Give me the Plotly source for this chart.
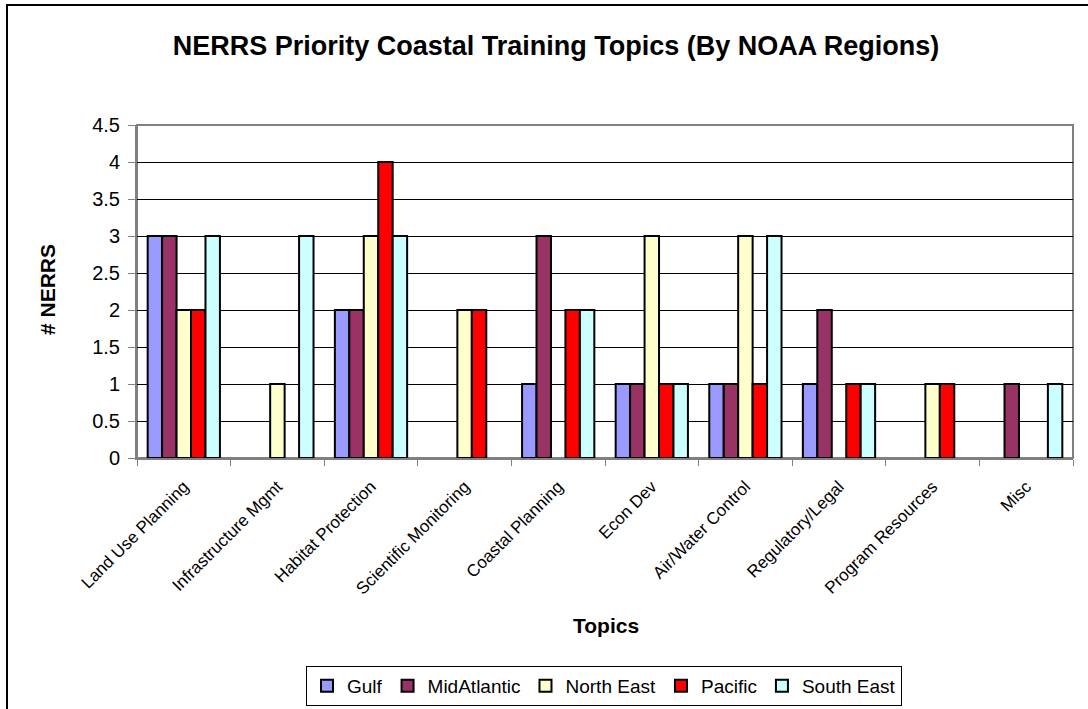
import plotly.graph_objects as go

topics = ["Land Use Planning", "Infrastructure Mgmt", "Habitat Protection",
          "Scientific Monitoring", "Coastal Planning", "Econ Dev",
          "Air/Water Control", "Regulatory/Legal", "Program Resources", "Misc"]

gulf = [3, 0, 2, 0, 1, 1, 1, 1, 0, 0]
mid_atlantic = [3, 0, 2, 0, 3, 1, 1, 2, 0, 1]
north_east = [2, 1, 3, 2, 0, 3, 3, 0, 1, 0]
pacific = [2, 0, 4, 2, 2, 1, 1, 1, 1, 0]
south_east = [3, 3, 3, 0, 2, 1, 3, 1, 0, 1]

series_names = ["Gulf", "MidAtlantic", "North East", "Pacific", "South East"]
series_values = [gulf, mid_atlantic, north_east, pacific, south_east]
series_colors = ["#9999FF", "#993366", "#FFFFCC", "#FF0000", "#CCFFFF"]

y_ticks = [0, 0.5, 1, 1.5, 2, 2.5, 3, 3.5, 4, 4.5]
y_tick_text = ["0", "0.5", "1", "1.5", "2", "2.5", "3", "3.5", "4", "4.5"]

FONT = "Arial, 'Liberation Sans', sans-serif"

fig = go.Figure()
for name, vals, col in zip(series_names, series_values, series_colors):
    # zero values are not drawn in the original (no flat outline at 0)
    fig.add_trace(go.Bar(
        x=topics, y=[v if v else None for v in vals], name=name,
        marker=dict(color=col, line=dict(color="black", width=2)),
    ))

# plot area geometry (pixels)
L, R, T, B = 137, 15, 125, 251
W, H = 1088, 709
pw = W - L - R
ph = H - T - B

def px(x):
    return (x - L) / pw

def py(y):
    return (H - B - y) / ph

fig.update_layout(
    width=W, height=H,
    margin=dict(l=L, r=R, t=T, b=B, autoexpand=False),
    paper_bgcolor="white", plot_bgcolor="white",
    barmode="group", bargap=0.228, bargroupgap=0,
    font=dict(family=FONT, color="black"),
    title=dict(text="<b>NERRS Priority Coastal Training Topics (By NOAA Regions)</b>",
               x=556 / W, xref="container", xanchor="center",
               y=1 - 46 / H, yanchor="middle",
               font=dict(size=27, family=FONT, color="black")),
    showlegend=True,
    legend=dict(orientation="h", x=px(604), xanchor="center", y=py(666), yanchor="top",
                bgcolor="white", bordercolor="black", borderwidth=1,
                font=dict(size=19, family=FONT, color="black"),
                itemwidth=30, traceorder="normal"),
    xaxis=dict(
        type="category", tickangle=-45, tickson="boundaries",
        ticks="outside", ticklen=6, tickcolor="#808080", tickwidth=1,
        ticklabelstandoff=10, automargin=False,
        showline=True, linecolor="#808080", linewidth=2,
        showgrid=False,
        tickfont=dict(size=17, family=FONT, color="black"),
    ),
    yaxis=dict(
        range=[0, 4.5], tickvals=y_ticks, ticktext=y_tick_text,
        ticks="outside", ticklen=7, tickcolor="#808080", tickwidth=1,
        ticklabelstandoff=4, automargin=False,
        showline=True, linecolor="#808080", linewidth=2,
        showgrid=True, gridcolor="black", gridwidth=1,
        zeroline=False,
        tickfont=dict(size=20, family=FONT, color="black"),
    ),
    annotations=[
        dict(text="<b># NERRS</b>", textangle=-90, xref="paper", yref="paper",
             x=px(47), y=py(290), xanchor="center", yanchor="middle", showarrow=False,
             font=dict(size=21, family=FONT, color="black")),
        dict(text="<b>Topics</b>", xref="paper", yref="paper",
             x=px(606), y=py(625), xanchor="center", yanchor="middle", showarrow=False,
             font=dict(size=21, family=FONT, color="black")),
    ],
)

# plot area border (gray) at top and right
fig.add_shape(type="rect", xref="paper", yref="paper", x0=0, y0=0, x1=1, y1=1,
              line=dict(color="#808080", width=2), layer="below")

# outer chart border: left and top only visible
fig.add_shape(type="path", xref="paper", yref="paper",
              path=f"M {px(7)} {py(712)} L {px(7)} {py(5)} L {px(1092)} {py(5)}",
              line=dict(color="black", width=2))

fig.write_html("out.html")
